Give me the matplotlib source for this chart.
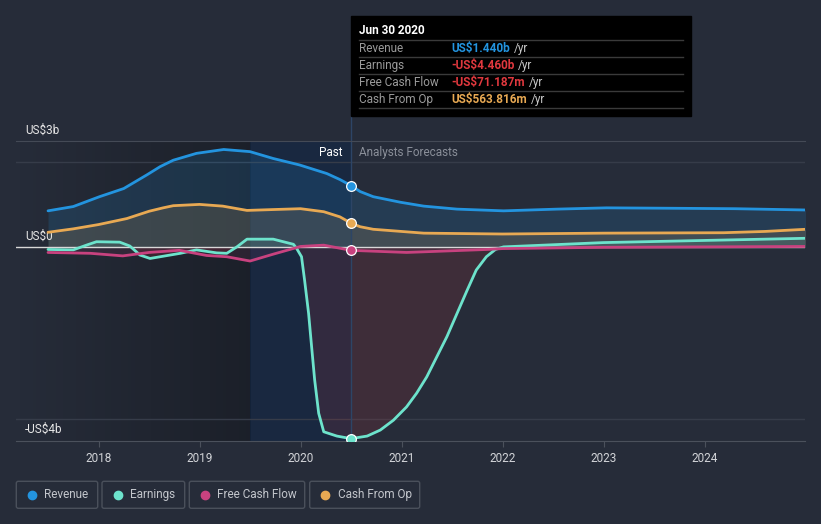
import numpy as np
import matplotlib
matplotlib.use('Agg')
import matplotlib.pyplot as plt
from matplotlib.patches import Rectangle, FancyBboxPatch

plt.rcParams['font.family'] = ['Roboto', 'DejaVu Sans']

# values in billions of US$, x in decimal years
rev_x = [2017.5, 2017.75, 2018.01, 2018.25, 2018.48, 2018.61, 2018.74, 2018.97, 2019.24, 2019.5,
         2019.73, 2019.99, 2020.26, 2020.39, 2020.5, 2020.59, 2020.72, 2020.99, 2021.22, 2021.55,
         2022.01, 2022.54, 2023.03, 2023.69, 2024.3, 2025.0]
revenue = [0.85, 0.95, 1.18, 1.37, 1.69, 1.88, 2.03, 2.19, 2.28, 2.23,
           2.07, 1.92, 1.72, 1.58, 1.44, 1.30, 1.18, 1.05, 0.96, 0.89,
           0.85, 0.89, 0.92, 0.91, 0.90, 0.87]

earn_x = [2017.5, 2017.75, 2017.88, 2017.98, 2018.21, 2018.31, 2018.41, 2018.51, 2018.81, 2018.97,
          2019.17, 2019.27, 2019.37, 2019.47, 2019.73, 2019.93, 2019.96, 2020.01, 2020.04, 2020.08,
          2020.11, 2020.14, 2020.18, 2020.23, 2020.36, 2020.5, 2020.66, 2020.79, 2020.92, 2021.05,
          2021.15, 2021.25, 2021.35, 2021.45, 2021.55, 2021.65, 2021.74, 2021.84, 2021.93, 2022.01,
          2023.0, 2024.0, 2025.0]
earnings = [-0.05, -0.06, 0.05, 0.13, 0.12, 0.03, -0.18, -0.26, -0.14, -0.06,
            -0.13, -0.14, 0.01, 0.19, 0.19, 0.07, -0.02, -0.22, -0.76, -1.54,
            -2.32, -3.09, -3.87, -4.30, -4.40, -4.46, -4.40, -4.26, -4.03, -3.72,
            -3.40, -3.02, -2.55, -2.08, -1.54, -1.0, -0.53, -0.22, -0.05, 0.01,
            0.11, 0.16, 0.21]

fcf_x = [2017.5, 2017.92, 2018.24, 2018.5, 2018.8, 2019.07, 2019.27, 2019.5, 2019.73, 2020.0,
         2020.23, 2020.5, 2021.05, 2021.85, 2022.0, 2023.0, 2024.0, 2025.0]
fcf = [-0.12, -0.14, -0.2, -0.12, -0.07, -0.19, -0.22, -0.32, -0.16, 0.02,
       0.05, -0.071, -0.12, -0.05, -0.03, 0.0, 0.01, 0.02]

cfo_x = [2017.5, 2017.75, 2018.0, 2018.28, 2018.5, 2018.64, 2018.74, 2019.0, 2019.23, 2019.47,
         2019.73, 2020.0, 2020.23, 2020.39, 2020.5, 2020.59, 2020.72, 2021.22, 2022.0, 2023.0,
         2024.19, 2024.6, 2025.0]
cfo = [0.35, 0.43, 0.53, 0.67, 0.84, 0.92, 0.97, 1.00, 0.96, 0.86,
       0.88, 0.90, 0.83, 0.71, 0.564, 0.48, 0.42, 0.33, 0.31, 0.33,
       0.34, 0.37, 0.42]

now = 2020.5
years = [2018, 2019, 2020, 2021, 2022, 2023, 2024]
names = ['Revenue', 'Earnings', 'Free Cash Flow', 'Cash From Op']
tip_values = ['US$1.440b', '-US$4.460b', '-US$71.187m', 'US$563.816m']

BG = '#262c39'
C_REV = '#2394df'
C_EARN = '#6de3cc'
C_FCF = '#c8427f'
C_CFO = '#e8a953'
C_RED = '#e0383e'

fig = plt.figure(figsize=(8.21, 5.24), dpi=100, facecolor=BG)
ax = fig.add_axes([16 / 821, 83 / 524, 789 / 821, 300 / 524])
ax.set_facecolor(BG)
x0, x1 = 2017.183, 2024.995
y0, y1 = -4.515, 2.478
ax.set_xlim(x0, x1)
ax.set_ylim(y0, y1)

# darker past band (gradient) and highlighted last year
grad = np.zeros((2, 200, 4))
grad[..., 3] = np.linspace(0.0, 0.28, 200)
ax.imshow(grad, extent=[x0, 2019.5, y0, y1], aspect='auto', zorder=0.1)
ax.axvspan(2019.5, now, color='#0d2547', alpha=0.5, lw=0, zorder=0.2)

# grid
for g in [2, -4]:
    ax.axhline(g, color='#363c49', lw=1, zorder=0.5)
ax.axhline(0, color='#d8d8d8', lw=1, zorder=3)
for s in ['left', 'right']:
    ax.spines[s].set_visible(False)
ax.spines['top'].set_color('#444a56')
ax.spines['bottom'].set_color('#4b515c')

# fills
ax.fill_between(rev_x, revenue, 0, color=C_REV, alpha=0.16, lw=0, zorder=1)
ax.fill_between(cfo_x, cfo, 0, color=C_CFO, alpha=0.15, lw=0, zorder=1.1)
e = np.array(earnings)
ax.fill_between(earn_x, e, 0, where=e < 0, interpolate=True, color=C_RED, alpha=0.13, lw=0, zorder=1.2)
ax.fill_between(earn_x, e, 0, where=e > 0, interpolate=True, color=C_EARN, alpha=0.1, lw=0, zorder=1.2)
ax.fill_between(fcf_x, fcf, 0, color=C_FCF, alpha=0.1, lw=0, zorder=1.3)

# lines
series = [(rev_x, revenue, C_REV), (earn_x, earnings, C_EARN), (fcf_x, fcf, C_FCF), (cfo_x, cfo, C_CFO)]
for xs, ys, c in series:
    ax.plot(xs, ys, color=c, lw=2, solid_capstyle='round', solid_joinstyle='round', zorder=4)
for xs, ys, c in series:
    ax.plot([now], [ys[xs.index(now)]], 'o', ms=7, color=c, mec='white', mew=0.9, zorder=6)

ax.axvline(now, ymin=0, ymax=1 + 25 / 300, color='#2d4566', lw=1, clip_on=False, zorder=2)

# axes labels
ax.set_yticks([])
ax.set_xticks(years)
ax.set_xticklabels([str(y) for y in years])
ax.tick_params(axis='x', colors='#4b515c', labelcolor='#d2d4d8', labelsize=8.5, length=4, pad=4)
ax.text(9 / 789, 2.73, 'US$3b', transform=ax.get_yaxis_transform(), color='#e6e6e6', fontsize=8.5, va='center')
ax.text(9 / 789, 0.26, 'US$0', transform=ax.get_yaxis_transform(), color='#e6e6e6', fontsize=8.5, va='center')
ax.text(9 / 789, -4.24, '-US$4b', transform=ax.get_yaxis_transform(), color='#e6e6e6', fontsize=8.5, va='center')
ax.text(now - 0.08, 2.2, 'Past', color='white', fontsize=8.5, ha='right', va='center', zorder=7)
ax.text(now + 0.08, 2.2, 'Analysts Forecasts', color='#8a8f99', fontsize=8.5, ha='left', va='center', zorder=7)

# overlay in pixel coords for tooltip and legend
ov = fig.add_axes([0, 0, 1, 1], zorder=10)
ov.set_xlim(0, 821)
ov.set_ylim(524, 0)
ov.axis('off')

ov.add_patch(Rectangle((351, 16), 340, 100, color='black', zorder=1))
ov.text(359, 31, 'Jun 30 2020', color='white', fontsize=8.5, fontweight='bold', va='center', zorder=2)
for i in range(5):
    yy = 40 + i * 17
    ov.plot([359, 683], [yy, yy], color='#3a3a3a', lw=1, zorder=2)
val_colors = [C_REV, C_RED, C_RED, C_CFO]
vals = []
for i, (n, v, c) in enumerate(zip(names, tip_values, val_colors)):
    yy = 48.5 + i * 17
    ov.text(359, yy, n, color='#9a9a9a', fontsize=8.5, va='center', zorder=2)
    vals.append(ov.text(451, yy, v, color=c, fontsize=8.5, fontweight='bold', va='center', zorder=2))

# legend boxes
leg_boxes = [(16.3, 81.4), (102, 82.7), (189.3, 115.4), (309.7, 110)]
leg_colors = [C_REV, C_EARN, C_FCF, C_CFO]
for (bx, bw), n, c in zip(leg_boxes, names, leg_colors):
    ov.add_patch(FancyBboxPatch((bx, 481.3), bw, 27, boxstyle='round,pad=0,rounding_size=2',
                                fc='none', ec='#4a505b', lw=1))
    ov.plot([bx + 15.7], [494.5], 'o', ms=6, color=c)
    ov.text(bx + 28, 494.5, n, color='#c3c6cc', fontsize=8.5, va='center')

fig.canvas.draw()
r = fig.canvas.get_renderer()
for i, t in enumerate(vals):
    bb = t.get_window_extent(renderer=r)
    ov.text(bb.x1 + 4, 48.5 + i * 17, '/yr', color='#c8c8c8', fontsize=8.5, va='center', zorder=2)

fig.savefig('out.png', dpi=100, facecolor=BG)
